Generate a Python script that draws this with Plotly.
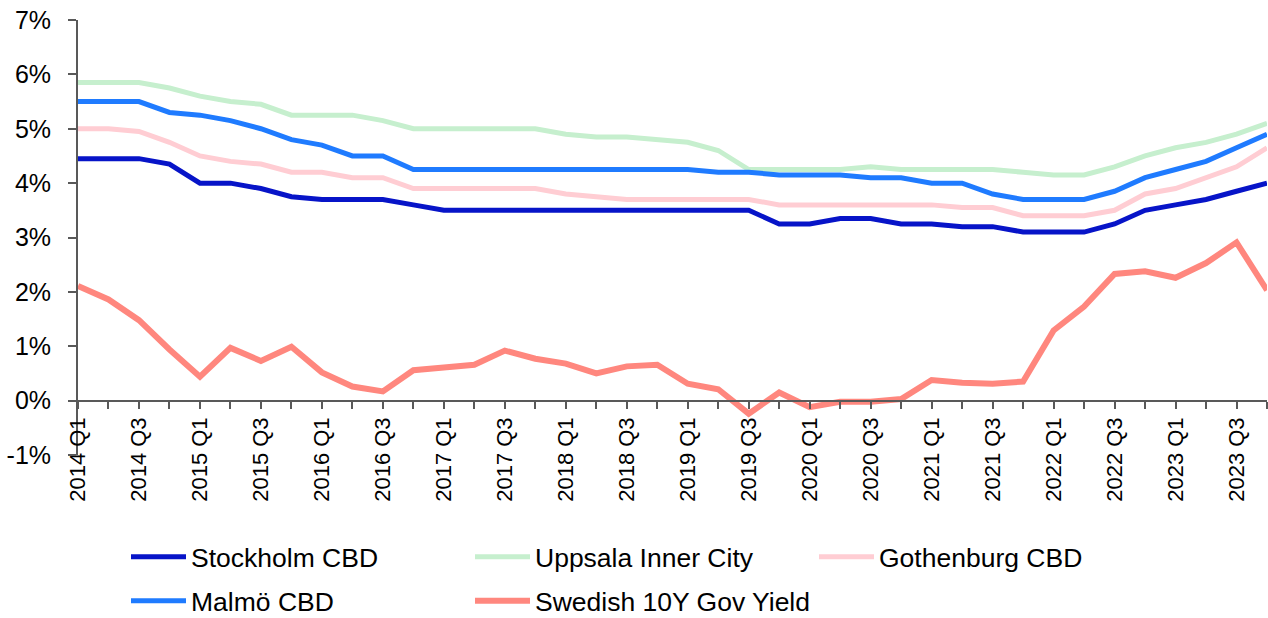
import plotly.graph_objects as go

quarters = [f"{y} Q{q}" for y in range(2014, 2024) for q in range(1, 5)]

stockholm = [4.45, 4.45, 4.45, 4.35, 4.0, 4.0, 3.9, 3.75, 3.7, 3.7,
             3.7, 3.6, 3.5, 3.5, 3.5, 3.5, 3.5, 3.5, 3.5, 3.5,
             3.5, 3.5, 3.5, 3.25, 3.25, 3.35, 3.35, 3.25, 3.25, 3.2,
             3.2, 3.1, 3.1, 3.1, 3.25, 3.5, 3.6, 3.7, 3.85, 4.0]
uppsala = [5.85, 5.85, 5.85, 5.75, 5.6, 5.5, 5.45, 5.25, 5.25, 5.25,
           5.15, 5.0, 5.0, 5.0, 5.0, 5.0, 4.9, 4.85, 4.85, 4.8,
           4.75, 4.6, 4.25, 4.25, 4.25, 4.25, 4.3, 4.25, 4.25, 4.25,
           4.25, 4.2, 4.15, 4.15, 4.3, 4.5, 4.65, 4.75, 4.9, 5.1]
gothenburg = [5.0, 5.0, 4.95, 4.75, 4.5, 4.4, 4.35, 4.2, 4.2, 4.1,
              4.1, 3.9, 3.9, 3.9, 3.9, 3.9, 3.8, 3.75, 3.7, 3.7,
              3.7, 3.7, 3.7, 3.6, 3.6, 3.6, 3.6, 3.6, 3.6, 3.55,
              3.55, 3.4, 3.4, 3.4, 3.5, 3.8, 3.9, 4.1, 4.3, 4.65]
malmo = [5.5, 5.5, 5.5, 5.3, 5.25, 5.15, 5.0, 4.8, 4.7, 4.5,
         4.5, 4.25, 4.25, 4.25, 4.25, 4.25, 4.25, 4.25, 4.25, 4.25,
         4.25, 4.2, 4.2, 4.15, 4.15, 4.15, 4.1, 4.1, 4.0, 4.0,
         3.8, 3.7, 3.7, 3.7, 3.85, 4.1, 4.25, 4.4, 4.65, 4.9]
gov_yield = [2.11, 1.86, 1.48, 0.94, 0.44, 0.97, 0.73, 0.99, 0.52, 0.26,
             0.17, 0.56, 0.61, 0.66, 0.92, 0.77, 0.68, 0.5, 0.63, 0.66,
             0.31, 0.21, -0.24, 0.15, -0.12, -0.02, -0.02, 0.03, 0.38, 0.33,
             0.31, 0.35, 1.29, 1.73, 2.33, 2.38, 2.26, 2.53, 2.91, 2.03]

tick_text = [q if q.endswith("Q1") or q.endswith("Q3") else "" for q in quarters]
y_ticks = [-1, 0, 1, 2, 3, 4, 5, 6, 7]

series = [
    ("Stockholm CBD", stockholm, "#0714C8", 5, "legend"),
    ("Uppsala Inner City", uppsala, "#C6EFCE", 5, "legend"),
    ("Gothenburg CBD", gothenburg, "#FFCDD3", 5, "legend"),
    ("Malmö CBD", malmo, "#1F7BFF", 5, "legend2"),
    ("Swedish 10Y Gov Yield", gov_yield, "#FF877E", 6, "legend2"),
]

fig = go.Figure()
for name, vals, color, w, lg in series:
    fig.add_trace(go.Scatter(x=quarters, y=vals, mode="lines", name=name,
                             line=dict(color=color, width=w), legend=lg))

axis_color = "#595959"
font_family = "Liberation Sans, Arial, sans-serif"
pad = "\u00a0\u2009"

legend_common = dict(orientation="h", xref="container", yref="container",
                     xanchor="left", yanchor="middle",
                     font=dict(size=26.5, family=font_family),
                     entrywidth=274, entrywidthmode="pixels",
                     itemwidth=55, bgcolor="rgba(0,0,0,0)")

fig.update_layout(
    width=1268, height=618,
    margin=dict(l=78, r=1, t=20, b=163, autoexpand=False),
    paper_bgcolor="white", plot_bgcolor="white",
    font=dict(family=font_family, color="black"),
    showlegend=True,
    legend=dict(x=126 / 1268, y=1 - 557 / 618, **legend_common),
    legend2=dict(x=126 / 1268, y=1 - 601 / 618, **legend_common),
    xaxis=dict(
        type="category", range=[0, 39],
        tickmode="array", tickvals=quarters, ticktext=tick_text,
        tickangle=-90, tickfont=dict(size=22),
        ticks="outside", ticklen=7, tickwidth=2, tickcolor=axis_color,
        showline=True, linecolor=axis_color, linewidth=2,
        showgrid=False, zeroline=False, automargin=False,
        anchor="free", position=0.125,
    ),
    yaxis=dict(
        range=[-1, 7], tickmode="array", tickvals=y_ticks,
        ticktext=[f"{v}%{pad}" for v in y_ticks],
        tickfont=dict(size=25),
        ticks="outside", ticklen=8, tickwidth=2, tickcolor=axis_color,
        showline=True, linecolor=axis_color, linewidth=2,
        showgrid=False, zeroline=False, automargin=False,
    ),
)

fig.write_html("out.html", config={"displayModeBar": False},
               post_script="document.body.style.margin='0';document.body.style.overflow='hidden';")
